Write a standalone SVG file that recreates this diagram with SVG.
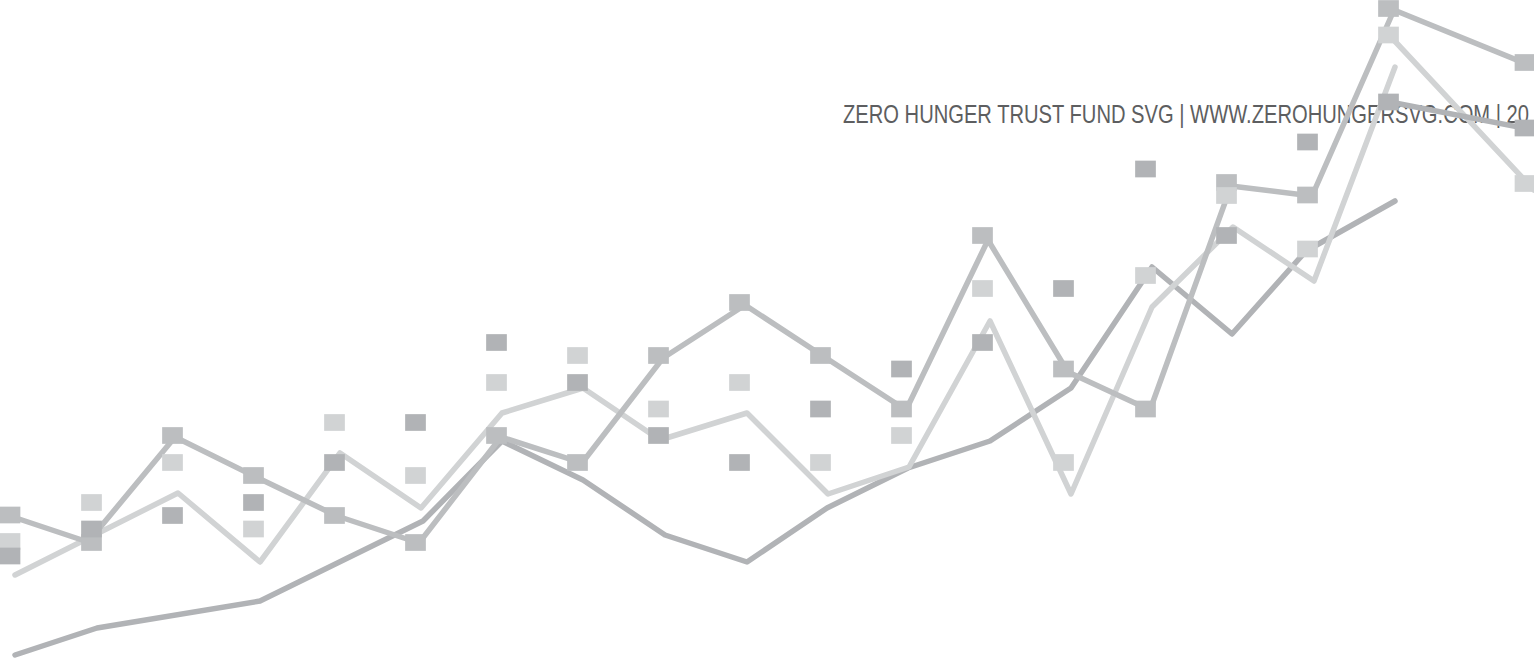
<svg xmlns="http://www.w3.org/2000/svg" width="1534" height="659" viewBox="0 0 1534 659">
<style>
.bg{fill:#ffffff}
.title{font-family:"Liberation Sans",Arial,sans-serif;font-size:26px;fill:#5d5e60}
.ln{fill:none;stroke-width:5.5;stroke-linecap:round;stroke-linejoin:round}
.lm{stroke:#bcbec0}
.ll{stroke:#d1d3d4}
.ld{stroke:#b1b3b6}
.m{fill:#bcbec0}
.l{fill:#d1d3d4}
.d{fill:#b1b3b6}
</style>
<defs>
<rect id="sq" x="-10.35" y="-8.35" width="20.7" height="16.7"/>
</defs>
<rect class="bg" x="0" y="0" width="1534" height="659"/>
<g id="title">
<text class="title" x="843" y="122.5" textLength="686" lengthAdjust="spacingAndGlyphs">ZERO HUNGER TRUST FUND SVG | WWW.ZEROHUNGERSVG.COM |  20</text>
</g>
<g id="connectors">
<polyline class="ln ld" points="15,655 97,628 260,601 423,521 502,441 583,480 665,535 747,562 827,508 908,468 990,441 1071,388 1152,267 1232,334 1306,251 1395,201"/>
<polyline class="ln ll" points="15,575 178,493 260,562 340,453 421,508 502,413 583,388 660,440 747,413 828,494 909,467 990,321 1071,494 1152,307 1233,227 1314,281 1395,67"/>
<polyline class="ln lm" points="10,516 88,542 175,437 256,477 337,516 419,543 501,437 582,463 663,358 745,305 826,358 906,410 988,240 1068,372 1150,410 1231,186 1312,196 1394,10 1534,67"/>
<polyline class="ln ll" points="1390,36 1534,190"/>
<polyline class="ln ld" points="1390,102 1534,130"/>
</g>
<g id="series-medium">
<use href="#sq" class="m" x="10" y="515"/>
<use href="#sq" class="m" x="91.5" y="542.5"/>
<use href="#sq" class="m" x="172.5" y="435.5"/>
<use href="#sq" class="m" x="253.5" y="475.5"/>
<use href="#sq" class="m" x="334.5" y="515.5"/>
<use href="#sq" class="m" x="415.5" y="542.5"/>
<use href="#sq" class="m" x="496.5" y="435.5"/>
<use href="#sq" class="m" x="577.5" y="462.5"/>
<use href="#sq" class="m" x="658.5" y="355.5"/>
<use href="#sq" class="m" x="739.5" y="302.5"/>
<use href="#sq" class="m" x="820.5" y="355.5"/>
<use href="#sq" class="m" x="901.5" y="409"/>
<use href="#sq" class="m" x="982.5" y="235.5"/>
<use href="#sq" class="m" x="1063.5" y="369"/>
<use href="#sq" class="m" x="1145.5" y="409"/>
<use href="#sq" class="m" x="1226.5" y="182.5"/>
<use href="#sq" class="m" x="1307.5" y="195"/>
<use href="#sq" class="m" x="1388.5" y="8.5"/>
<use href="#sq" class="m" x="1525" y="62.5"/>
</g>
<g id="series-light">
<use href="#sq" class="l" x="10" y="541.5"/>
<use href="#sq" class="l" x="91.5" y="502.5"/>
<use href="#sq" class="l" x="172.5" y="462.5"/>
<use href="#sq" class="l" x="253.5" y="529"/>
<use href="#sq" class="l" x="334.5" y="422.5"/>
<use href="#sq" class="l" x="415.5" y="475.5"/>
<use href="#sq" class="l" x="496.5" y="382.5"/>
<use href="#sq" class="l" x="577.5" y="355.5"/>
<use href="#sq" class="l" x="658.5" y="409"/>
<use href="#sq" class="l" x="739.5" y="382.5"/>
<use href="#sq" class="l" x="820.5" y="462.5"/>
<use href="#sq" class="l" x="901.5" y="435.5"/>
<use href="#sq" class="l" x="982.5" y="288.5"/>
<use href="#sq" class="l" x="1063.5" y="462.5"/>
<use href="#sq" class="l" x="1145.5" y="275.5"/>
<use href="#sq" class="l" x="1226.5" y="195.5"/>
<use href="#sq" class="l" x="1307.5" y="249"/>
<use href="#sq" class="l" x="1388.5" y="35"/>
<use href="#sq" class="l" x="1525" y="183.5"/>
</g>
<g id="series-dark">
<use href="#sq" class="d" x="10" y="556"/>
<use href="#sq" class="d" x="91.5" y="529"/>
<use href="#sq" class="d" x="172.5" y="515.5"/>
<use href="#sq" class="d" x="253.5" y="502.5"/>
<use href="#sq" class="d" x="334.5" y="462.5"/>
<use href="#sq" class="d" x="415.5" y="422.5"/>
<use href="#sq" class="d" x="496.5" y="342.5"/>
<use href="#sq" class="d" x="577.5" y="382.5"/>
<use href="#sq" class="d" x="658.5" y="435.5"/>
<use href="#sq" class="d" x="739.5" y="462.5"/>
<use href="#sq" class="d" x="820.5" y="409"/>
<use href="#sq" class="d" x="901.5" y="369"/>
<use href="#sq" class="d" x="982.5" y="342.5"/>
<use href="#sq" class="d" x="1063.5" y="288.5"/>
<use href="#sq" class="d" x="1145.5" y="169"/>
<use href="#sq" class="d" x="1226.5" y="235.5"/>
<use href="#sq" class="d" x="1307.5" y="142"/>
<use href="#sq" class="d" x="1388.5" y="102"/>
<use href="#sq" class="d" x="1525" y="128"/>
</g>
</svg>
